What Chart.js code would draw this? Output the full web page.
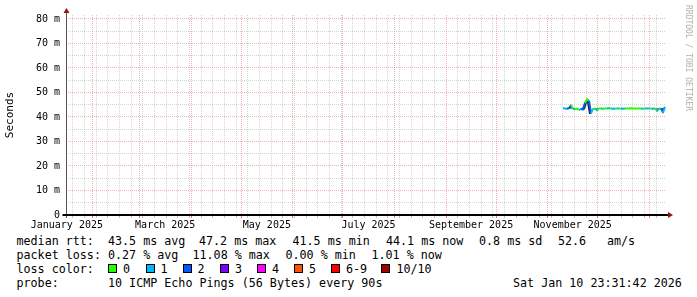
<!DOCTYPE html>
<html>
<head>
<meta charset="utf-8">
<script src="https://cdn.jsdelivr.net/npm/chart.js@4"></script>
<style>
  body { margin: 0; background: #fff; }
  #wrap { position: relative; width: 697px; height: 297px; overflow: hidden; }
  #c { position: absolute; left: 0; top: 0; }
  .t { position: absolute; font: 11.7px 'DejaVu Sans Mono', monospace; line-height: 14px; white-space: pre; color: #000; }
  .box { position: absolute; width: 7px; height: 7px; border: 1px solid #000; }
  #mark { position: absolute; left: 692px; top: 5px; transform: rotate(90deg); transform-origin: 0 0;
          font: 8px 'DejaVu Sans Mono', monospace; line-height: 8px; color: #b0b0b0; white-space: pre; }
</style>
</head>
<body>
<div id="wrap">
  <canvas id="c" width="697" height="232"></canvas>
  <div id="mark">RRDTOOL / TOBI OETIKER</div>
  <div id="legend"></div>
</div>
<script>
// graph window: last 360 days up to Sat Jan 10 23:31:42 2026
const DAY = 86400000
const windowStart = Date.UTC(2025, 0, 15, 23, 31, 42)
const windowDays = 360
const monthNames = ['January', 'February', 'March', 'April', 'May', 'June', 'July',
  'August', 'September', 'October', 'November', 'December']

// samples (one every 1.2 days, first one at day 298.2 of the window)
const firstSample = 298.2
const sampleStep = 1.2
const medianRtt = [
  43.6, 43.5, 43.4, 43.6, 44.9, 43.4, 43.2, 43.4, 42.9, 43.3,
  43.1, 45.8, 47.2, 46.6, 41.5, 43.4, 43.5, 42.6, 43.5, 43.5,
  43.4, 43.5, 43.5, 43.6, 43.5, 43.4, 43.5, 43.5, 43.5, 43.5,
  43.4, 43.5, 43.5, 43.5, 43.6, 43.5, 43.5, 43.5, 43.5, 43.5,
  43.4, 43.5, 43.5, 43.5, 43.5, 43.4, 43.5, 42.6, 43.4, 43.5,
  41.8, 44.1
]
const lossCount = [
  1, 1, 1, 2, 2, 0, 1, 0, 0, 1,
  2, 2, 0, 0, 2, 1, 0, 1, 0, 0,
  1, 0, 0, 1, 0, 1, 1, 0, 1, 0,
  1, 1, 0, 0, 0, 0, 0, 0, 0, 0,
  1, 0, 1, 1, 0, 1, 1, 0, 1, 0,
  2, 1
]
const smokeLow = [
  43.4, 43.3, 43.2, 43.4, 43.5, 43.2, 43.0, 43.2, 42.7, 43.1,
  42.8, 43.2, 46.0, 41.2, 41.2, 43.2, 43.3, 42.3, 43.3, 43.3,
  43.2, 43.3, 43.3, 43.4, 43.3, 43.2, 43.3, 43.3, 43.3, 43.3,
  43.2, 43.3, 43.3, 43.3, 43.4, 43.3, 43.3, 43.3, 43.3, 43.3,
  43.2, 43.3, 43.3, 43.3, 43.3, 43.2, 43.3, 42.0, 43.2, 43.3,
  41.2, 43.9
]
const smokeHigh = [
  43.8, 43.7, 43.6, 43.8, 45.2, 43.6, 43.4, 43.6, 43.1, 43.5,
  44.0, 46.4, 47.6, 47.2, 42.6, 43.6, 43.7, 43.5, 43.7, 43.7,
  43.6, 43.7, 43.7, 43.8, 43.7, 43.6, 43.7, 43.7, 43.7, 43.7,
  43.6, 43.7, 43.7, 43.7, 43.8, 43.7, 43.7, 43.7, 43.7, 43.7,
  43.6, 43.7, 43.7, 43.7, 43.7, 43.6, 43.7, 43.5, 43.6, 43.7,
  43.6, 44.3
]

const lossColors = ['#26ff00', '#00b8ff', '#0059ff', '#7e00ff', '#ff00ff', '#ff5500', '#ff0000', '#a10000']
const lossLabels = ['0', '1', '2', '3', '4', '5', '6-9', '10/10']

const yMax = 81.63
const majorGrid = 'rgba(230, 100, 100, 0.5)'
const minorGrid = 'rgba(150, 150, 150, 0.4)'

const toDay = t => (t - windowStart) / DAY

// x ticks: weekly (Mondays), month starts, month labels every second month
function buildXTicks() {
  const ticks = []
  for (let t = Date.UTC(2025, 0, 20); toDay(t) < windowDays; t += 7 * DAY) {
    ticks.push({ value: toDay(t), kind: 'week' })
  }
  for (let m = 1; m <= 12; m++) {
    const v = toDay(Date.UTC(2025, m, 1))
    const same = ticks.find(k => Math.abs(k.value - v) < 0.01)
    if (same) same.kind = 'month'
    else ticks.push({ value: v, kind: 'month' })
  }
  for (let m = 0; m < 12; m += 2) {
    const a = Date.UTC(2025, m, 1), b = Date.UTC(2025, m + 1, 1)
    ticks.push({ value: toDay((a + b) / 2), kind: 'label', text: monthNames[m] + ' 2025' })
  }
  return ticks.sort((p, q) => p.value - q.value)
}

const sampleX = medianRtt.map((_, i) => firstSample + i * sampleStep)
const pts = arr => arr.map((v, i) => ({ x: sampleX[i], y: v }))

const axisArrows = {
  id: 'axisArrows',
  afterDraw(chart) {
    const { ctx, chartArea: a } = chart
    const x0 = Math.round(chart.scales.x.getPixelForValue(0)) + 0.5
    const y0 = chart.scales.y.getPixelForValue(0)
    ctx.save()
    ctx.strokeStyle = '#555'
    ctx.lineWidth = 1
    ctx.beginPath(); ctx.moveTo(x0, y0 + 3); ctx.lineTo(x0, a.top - 3); ctx.stroke()
    ctx.strokeStyle = '#000'
    ctx.lineWidth = 2
    ctx.beginPath(); ctx.moveTo(x0 - 4, y0); ctx.lineTo(a.right + 3, y0); ctx.stroke()
    ctx.fillStyle = '#8b1414'
    ctx.beginPath(); ctx.moveTo(x0, a.top - 7); ctx.lineTo(x0 - 3, a.top - 2); ctx.lineTo(x0 + 3, a.top - 2); ctx.fill()
    ctx.beginPath(); ctx.moveTo(a.right + 7, y0); ctx.lineTo(a.right + 2, y0 - 3); ctx.lineTo(a.right + 2, y0 + 3); ctx.fill()
    ctx.restore()
  }
}

Chart.defaults.font.family = "'DejaVu Sans Mono', monospace"
Chart.defaults.color = '#000'

new Chart(document.getElementById('c'), {
  type: 'line',
  data: {
    datasets: [
      {
        data: pts(medianRtt),
        order: 0,
        borderWidth: 2,
        pointRadius: 0,
        tension: 0,
        fill: false,
        borderColor: lossColors[0],
        segment: { borderColor: c => lossColors[lossCount[c.p1DataIndex]] }
      },
      { data: pts(smokeHigh), order: 1, borderWidth: 0, pointRadius: 0, fill: '+1', backgroundColor: 'rgba(25,25,25,0.95)' },
      { data: pts(smokeLow), order: 2, borderWidth: 0, pointRadius: 0, fill: false }
    ]
  },
  options: {
    responsive: false,
    animation: false,
    events: [],
    layout: { padding: { top: 15, right: 31, left: 0, bottom: 0 } },
    plugins: { legend: { display: false }, tooltip: { enabled: false } },
    scales: {
      x: {
        type: 'linear',
        min: 0,
        max: windowDays,
        afterBuildTicks: s => { s.ticks = buildXTicks() },
        afterFit: s => { s.height = 17 },
        ticks: {
          autoSkip: false,
          maxRotation: 0,
          padding: 1,
          font: { size: 10 },
          callback: (v, i, ticks) => ticks[i].kind === 'label' ? ticks[i].text : ''
        },
        grid: {
          color: c => c.tick && c.tick.kind === 'month' ? majorGrid : c.tick && c.tick.kind === 'week' ? minorGrid : 'rgba(0,0,0,0)',
          tickColor: c => c.tick && c.tick.kind === 'month' ? 'rgba(220,60,60,0.7)' : c.tick && c.tick.kind === 'week' ? 'rgba(150,150,150,0.6)' : 'rgba(0,0,0,0)',
          tickLength: 3,
          drawTicks: true
        },
        border: { display: false, dash: [1, 1] }
      },
      y: {
        min: 0,
        max: yMax,
        afterFit: s => { s.width = 66 },
        ticks: {
          stepSize: 5,
          includeBounds: false,
          autoSkip: false,
          padding: 6,
          font: { size: 10 },
          callback: v => v === 0 ? '0' : (v % 10 === 0 ? v + ' m' : '')
        },
        grid: {
          color: c => c.tick && c.tick.value % 10 === 0 ? majorGrid : minorGrid,
          drawTicks: false
        },
        border: { display: false, dash: [1, 1] },
        title: { display: true, text: 'Seconds', font: { size: 11 }, padding: { top: 4, bottom: 0 } }
      }
    }
  },
  plugins: [axisArrows]
})

// legend text below the graph, each piece at its own x
const legendRows = [
  [[16.5, 'median rtt:'], [108, '43.5 ms avg'], [199, '47.2 ms max'], [292.5, '41.5 ms min'],
   [386, '44.1 ms now'], [479, '0.8 ms sd'], [558, '52.6'], [607, 'am/s']],
  [[16.5, 'packet loss:'], [108, '0.27 % avg'], [192.5, '11.08 % max'], [285.5, '0.00 % min'], [371.5, '1.01 % now']],
  [[16.5, 'loss color:']],
  [[16.5, 'probe:'], [108, '10 ICMP Echo Pings (56 Bytes) every 90s'], [513, 'Sat Jan 10 23:31:42 2026']]
]
const rowTop = [234, 248, 262, 276]
const legend = document.getElementById('legend')
const addText = (x, y, s) => {
  const el = document.createElement('div')
  el.className = 't'
  el.style.left = x + 'px'
  el.style.top = y + 'px'
  el.textContent = s
  legend.appendChild(el)
}
legendRows.forEach((row, r) => row.forEach(([x, s]) => addText(x, rowTop[r], s)))

const boxX = [108, 145.5, 182.5, 220, 257, 294, 331, 381.4]
lossLabels.forEach((lab, i) => {
  const b = document.createElement('div')
  b.className = 'box'
  b.style.left = Math.round(boxX[i]) + 'px'
  b.style.top = '264px'
  b.style.background = lossColors[i]
  legend.appendChild(b)
  addText(boxX[i] + 15, rowTop[2], lab)
})
</script>
</body>
</html>
